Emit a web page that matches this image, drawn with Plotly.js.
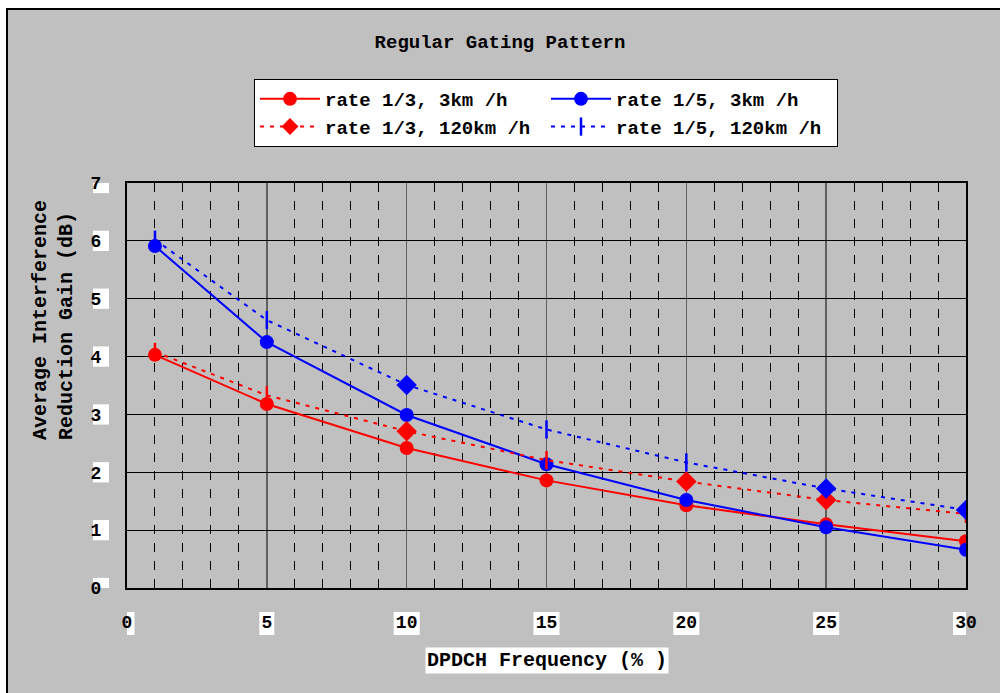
<!DOCTYPE html>
<html>
<head>
<meta charset="utf-8">
<script src="https://cdn.plot.ly/plotly-3.0.1.min.js"></script>
<style>html,body{margin:0;padding:0;background:#fff;}#chart{width:1000px;height:693px;}</style>
</head>
<body>
<div id="chart"></div>
<script>
// ---- data ----
const freq = [1, 5, 10, 15, 20, 25, 30];
const rate13_3km = [4.03, 3.18, 2.42, 1.86, 1.43, 1.10, 0.81];
const rate15_3km = [5.91, 4.25, 2.99, 2.14, 1.52, 1.05, 0.66];
const rate13_120km = [4.08, 3.33, 2.71, 2.21, 1.84, 1.52, 1.28];
const rate15_120km = [6.02, 4.63, 3.51, 2.74, 2.17, 1.72, 1.35];
const sym13_120 = ['line-ns', 'line-ns', 'diamond', 'line-ns', 'diamond', 'diamond', 'line-ns'];
const sym15_120 = ['line-ns', 'line-ns', 'diamond', 'line-ns', 'line-ns', 'diamond', 'diamond'];
const xTicks = [0, 5, 10, 15, 20, 25, 30];
const yTicks = [0, 1, 2, 3, 4, 5, 6, 7];
const names = ['rate 1/3, 3km /h', 'rate 1/5, 3km /h', 'rate 1/3, 120km /h', 'rate 1/5, 120km /h'];

const RED = '#FF0000', BLUE = '#0000FF';
const FONT = 'Liberation Mono, Courier New, monospace';
const DOT = '4px,6px';

const traces = [
  {x: freq, y: rate13_3km, name: names[0], mode: 'lines+markers', legendrank: 1,
   line: {color: RED, width: 2}, marker: {symbol: 'circle', size: 14, color: RED}},
  {x: freq, y: rate15_3km, name: names[1], mode: 'lines+markers', legendrank: 2,
   line: {color: BLUE, width: 2}, marker: {symbol: 'circle', size: 14, color: BLUE}},
  {x: freq, y: rate13_120km, name: names[2], mode: 'lines+markers', showlegend: false,
   line: {color: RED, width: 2, dash: DOT},
   marker: {symbol: sym13_120, size: 13, color: RED, line: {color: RED, width: 2.5}}},
  {x: freq, y: rate15_120km, name: names[3], mode: 'lines+markers', legendrank: 4,
   line: {color: BLUE, width: 2, dash: DOT},
   marker: {symbol: sym15_120, size: 13, color: BLUE, line: {color: BLUE, width: 2.5}}},
  // legend entry for the red dotted series (diamond symbol as in the original legend)
  {x: [null], y: [null], name: names[2], mode: 'lines+markers', legendrank: 3,
   line: {color: RED, width: 2, dash: DOT},
   marker: {symbol: 'diamond', size: 13, color: RED}}
];

// plot area geometry helpers (pixels -> paper)
const L = 127, R = 34, T = 183, B = 105, W = 1000, H = 693;
const pw = W - L - R, ph = H - T - B;
const px2x = p => (p - L) / pw;
const px2y = p => (H - B - p) / ph;

const shapes = [];
// gray chart area with black frame on left/top
shapes.push({type: 'rect', xref: 'paper', yref: 'paper', layer: 'below',
  x0: px2x(7), x1: 1.3, y0: -0.6, y1: px2y(9),
  fillcolor: '#C0C0C0', line: {color: '#000', width: 2}});
// white boxes behind x tick labels
xTicks.forEach(v => {
  const half = (String(v).length * 11 + 4) / 2 / (pw / 30);
  shapes.push({type: 'rect', xref: 'x', yref: 'paper', layer: 'below',
    x0: v - half, x1: v + half, y0: px2y(635), y1: px2y(612),
    fillcolor: '#FFFFFF', line: {width: 0}});
});
// white boxes behind y tick labels
yTicks.forEach(v => {
  shapes.push({type: 'rect', xref: 'paper', yref: 'y', layer: 'below',
    x0: px2x(93), x1: px2x(109), y0: v - 0.175, y1: v + 0.175,
    fillcolor: '#FFFFFF', line: {width: 0}});
});

const layout = {
  width: W, height: H,
  margin: {l: L, r: R, t: T, b: B},
  paper_bgcolor: '#FFFFFF',
  plot_bgcolor: '#FFFFFF',
  font: {family: FONT, size: 17, color: '#000', weight: 'bold'},
  title: {text: 'Regular Gating Pattern', x: 0.5, xanchor: 'center', y: 1 - 41 / H, yanchor: 'middle',
    font: {family: FONT, size: 19, color: '#000', weight: 'bold'}},
  showlegend: true,
  legend: {orientation: 'h', x: px2x(254), xanchor: 'left', y: px2y(79), yanchor: 'top',
    bgcolor: '#FFFFFF', bordercolor: '#000', borderwidth: 1,
    entrywidth: 216, entrywidthmode: 'pixels', itemwidth: 60,
    font: {family: FONT, size: 19, color: '#000', weight: 'bold'}},
  xaxis: {range: [0, 30], tickvals: xTicks, ticktext: xTicks.map(String),
    showgrid: true, gridcolor: '#606060', gridwidth: 1.5,
    minor: {dtick: 1, showgrid: true, gridcolor: '#000', gridwidth: 1, griddash: 'dash'},
    showline: true, linecolor: '#000', linewidth: 2, mirror: true,
    zeroline: false, ticks: '', ticklabelstandoff: 16,
    tickfont: {family: FONT, size: 18, color: '#000', weight: 'bold'}},
  yaxis: {range: [0, 7], tickvals: yTicks, ticktext: yTicks.map(String),
    showgrid: true, gridcolor: '#000', gridwidth: 1,
    showline: true, linecolor: '#000', linewidth: 2, mirror: true,
    zeroline: false, ticks: '', ticklabelstandoff: 20,
    tickfont: {family: FONT, size: 18, color: '#000', weight: 'bold'}},
  shapes: shapes,
  annotations: [
    {text: 'Average Interference<br>Reduction Gain (dB)', textangle: -90, align: 'left',
     xref: 'paper', yref: 'paper', x: px2x(53), xanchor: 'center', y: px2y(442), yanchor: 'bottom',
     showarrow: false, font: {family: FONT, size: 20, color: '#000', weight: 'bold'}},
    {text: 'DPDCH Frequency (% )', xref: 'paper', yref: 'paper', x: 0.5, xanchor: 'center',
     y: px2y(660), yanchor: 'middle', showarrow: false, bgcolor: '#FFFFFF',
     font: {family: FONT, size: 20, color: '#000', weight: 'bold'}}
  ]
};

Plotly.newPlot('chart', traces, layout, {displayModeBar: false, staticPlot: true});
</script>
</body>
</html>
